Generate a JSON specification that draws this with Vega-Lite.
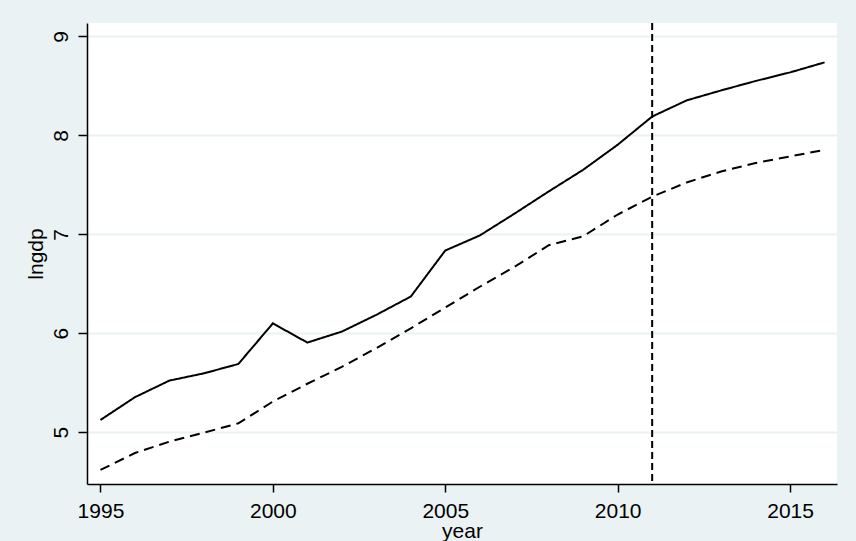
{
  "$schema": "https://vega.github.io/schema/vega-lite/v6.json",
  "width": 750,
  "height": 461,
  "autosize": {"type": "none"},
  "padding": {"left": 87, "top": 23, "right": 19, "bottom": 57},
  "background": "#EAF2F3",
  "config": {
    "view": {"fill": "white", "stroke": null},
    "font": "Liberation Sans",
    "axis": {
      "domainColor": "black",
      "domainWidth": 1.5,
      "tickColor": "black",
      "tickWidth": 1.5,
      "labelColor": "black",
      "titleColor": "black",
      "labelFontSize": 21,
      "titleFontSize": 21,
      "titleFontWeight": "normal",
      "gridColor": "#EAF2F3",
      "gridWidth": 2
    }
  },
  "datasets": {
    "gdp": [
      {"year": 1995, "series": "a", "lngdp": 5.124},
      {"year": 1996, "series": "a", "lngdp": 5.354},
      {"year": 1997, "series": "a", "lngdp": 5.522},
      {"year": 1998, "series": "a", "lngdp": 5.595},
      {"year": 1999, "series": "a", "lngdp": 5.69},
      {"year": 2000, "series": "a", "lngdp": 6.1},
      {"year": 2001, "series": "a", "lngdp": 5.906},
      {"year": 2002, "series": "a", "lngdp": 6.017},
      {"year": 2003, "series": "a", "lngdp": 6.186},
      {"year": 2004, "series": "a", "lngdp": 6.371},
      {"year": 2005, "series": "a", "lngdp": 6.836},
      {"year": 2006, "series": "a", "lngdp": 6.988},
      {"year": 2007, "series": "a", "lngdp": 7.207},
      {"year": 2008, "series": "a", "lngdp": 7.433},
      {"year": 2009, "series": "a", "lngdp": 7.652},
      {"year": 2010, "series": "a", "lngdp": 7.905},
      {"year": 2011, "series": "a", "lngdp": 8.19},
      {"year": 2012, "series": "a", "lngdp": 8.353},
      {"year": 2013, "series": "a", "lngdp": 8.454},
      {"year": 2014, "series": "a", "lngdp": 8.549},
      {"year": 2015, "series": "a", "lngdp": 8.636},
      {"year": 2016, "series": "a", "lngdp": 8.737},
      {"year": 1995, "series": "b", "lngdp": 4.619},
      {"year": 1996, "series": "b", "lngdp": 4.79},
      {"year": 1997, "series": "b", "lngdp": 4.905},
      {"year": 1998, "series": "b", "lngdp": 4.996},
      {"year": 1999, "series": "b", "lngdp": 5.09},
      {"year": 2000, "series": "b", "lngdp": 5.31},
      {"year": 2001, "series": "b", "lngdp": 5.49},
      {"year": 2002, "series": "b", "lngdp": 5.66},
      {"year": 2003, "series": "b", "lngdp": 5.85},
      {"year": 2004, "series": "b", "lngdp": 6.05},
      {"year": 2005, "series": "b", "lngdp": 6.26},
      {"year": 2006, "series": "b", "lngdp": 6.47},
      {"year": 2007, "series": "b", "lngdp": 6.67},
      {"year": 2008, "series": "b", "lngdp": 6.89},
      {"year": 2009, "series": "b", "lngdp": 6.98},
      {"year": 2010, "series": "b", "lngdp": 7.2},
      {"year": 2011, "series": "b", "lngdp": 7.38},
      {"year": 2012, "series": "b", "lngdp": 7.524},
      {"year": 2013, "series": "b", "lngdp": 7.635},
      {"year": 2014, "series": "b", "lngdp": 7.72},
      {"year": 2015, "series": "b", "lngdp": 7.787},
      {"year": 2016, "series": "b", "lngdp": 7.854}
    ],
    "marker": [{"year": 2011}]
  },
  "layer": [
    {
      "data": {"name": "gdp"},
      "mark": {"type": "line", "color": "black", "strokeWidth": 2},
      "encoding": {
        "x": {
          "field": "year", "type": "quantitative",
          "scale": {"domain": [1994.61, 2016.36], "nice": false, "zero": false},
          "axis": {"values": [1995, 2000, 2005, 2010, 2015], "format": "d", "grid": false, "tickSize": 8, "labelPadding": 8, "title": "year", "titlePadding": -1}
        },
        "y": {
          "field": "lngdp", "type": "quantitative",
          "scale": {"domain": [4.477, 9.135], "nice": false, "zero": false},
          "axis": {"values": [5, 6, 7, 8, 9], "grid": true, "tickSize": 9, "labelAngle": 270, "labelAlign": "center", "labelBaseline": "bottom", "labelPadding": 7, "title": "lngdp", "titlePadding": 4}
        },
        "strokeDash": {
          "field": "series", "type": "nominal",
          "scale": {"domain": ["a", "b"], "range": [[1, 0], [10, 6]]},
          "legend": null
        },
        "detail": {"field": "series"}
      }
    },
    {
      "data": {"name": "marker"},
      "mark": {"type": "rule", "color": "black", "strokeWidth": 2, "strokeDash": [7, 4]},
      "encoding": {
        "x": {"field": "year", "type": "quantitative"}
      }
    }
  ]
}
